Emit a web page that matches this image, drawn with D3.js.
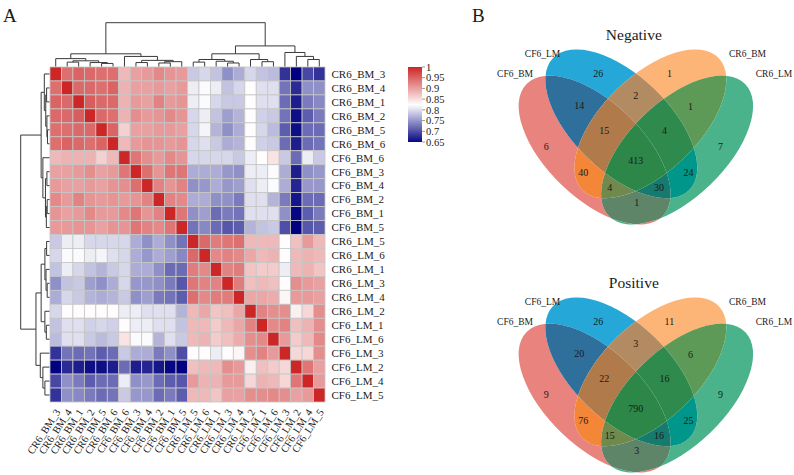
<!DOCTYPE html>
<html>
<head>
<meta charset="utf-8">
<script src="https://cdn.jsdelivr.net/npm/d3@7"></script>
<style>
  body { margin: 0; background: #fff; }
  text { font-family: "Liberation Serif", "Times New Roman", serif; fill: #1a1a1a; }
</style>
</head>
<body>
<svg id="chart"></svg>
<script>
// ---- data ----
const samples = ['CR6_BM_3', 'CR6_BM_4', 'CR6_BM_1', 'CR6_BM_2', 'CR6_BM_5', 'CR6_BM_6',
  'CF6_BM_6', 'CF6_BM_3', 'CF6_BM_4', 'CF6_BM_2', 'CF6_BM_1', 'CF6_BM_5',
  'CR6_LM_5', 'CR6_LM_6', 'CR6_LM_1', 'CR6_LM_3', 'CR6_LM_4', 'CR6_LM_2',
  'CF6_LM_1', 'CF6_LM_6', 'CF6_LM_3', 'CF6_LM_2', 'CF6_LM_4', 'CF6_LM_5'];

// lower triangle of the correlation matrix (row i holds columns 0..i)
const corrLower = [
  [1],
  [0.94, 1],
  [0.95, 0.945, 1],
  [0.945, 0.945, 0.955, 1],
  [0.94, 0.94, 0.945, 0.945, 1],
  [0.94, 0.95, 0.945, 0.94, 0.95, 1],
  [0.88, 0.885, 0.885, 0.885, 0.86, 0.88, 1],
  [0.9, 0.9, 0.905, 0.915, 0.9, 0.905, 0.935, 1],
  [0.905, 0.9, 0.9, 0.905, 0.9, 0.91, 0.915, 0.94, 1],
  [0.92, 0.905, 0.925, 0.91, 0.905, 0.91, 0.905, 0.91, 0.925, 1],
  [0.91, 0.9, 0.905, 0.92, 0.905, 0.905, 0.92, 0.935, 0.91, 0.925, 1],
  [0.905, 0.905, 0.91, 0.91, 0.9, 0.91, 0.91, 0.935, 0.925, 0.92, 0.935, 1],
  [0.785, 0.81, 0.81, 0.795, 0.795, 0.795, 0.795, 0.765, 0.745, 0.765, 0.745, 0.725, 1],
  [0.795, 0.82, 0.82, 0.81, 0.815, 0.8, 0.795, 0.765, 0.75, 0.765, 0.755, 0.74, 0.945, 1],
  [0.78, 0.81, 0.795, 0.78, 0.77, 0.785, 0.795, 0.765, 0.765, 0.745, 0.72, 0.72, 0.93, 0.92, 1],
  [0.745, 0.78, 0.785, 0.755, 0.745, 0.765, 0.795, 0.75, 0.75, 0.745, 0.73, 0.705, 0.935, 0.925, 0.925, 1],
  [0.765, 0.795, 0.785, 0.77, 0.765, 0.77, 0.785, 0.745, 0.755, 0.73, 0.725, 0.71, 0.94, 0.92, 0.93, 0.93, 1],
  [0.795, 0.825, 0.825, 0.825, 0.825, 0.825, 0.81, 0.81, 0.8, 0.8, 0.8, 0.77, 0.88, 0.895, 0.87, 0.875, 0.895, 1],
  [0.78, 0.8, 0.8, 0.79, 0.795, 0.79, 0.825, 0.81, 0.81, 0.8, 0.8, 0.78, 0.88, 0.88, 0.865, 0.88, 0.895, 0.925, 1],
  [0.775, 0.8, 0.8, 0.785, 0.775, 0.785, 0.845, 0.82, 0.82, 0.77, 0.8, 0.785, 0.88, 0.885, 0.865, 0.875, 0.89, 0.915, 0.92, 1],
  [0.68, 0.725, 0.72, 0.725, 0.71, 0.72, 0.785, 0.765, 0.765, 0.73, 0.745, 0.7, 0.825, 0.825, 0.81, 0.825, 0.83, 0.915, 0.925, 0.905, 1],
  [0.645, 0.675, 0.665, 0.655, 0.655, 0.665, 0.72, 0.665, 0.67, 0.66, 0.65, 0.645, 0.875, 0.88, 0.88, 0.915, 0.905, 0.835, 0.875, 0.865, 0.855, 1],
  [0.695, 0.745, 0.73, 0.71, 0.72, 0.72, 0.81, 0.745, 0.75, 0.72, 0.71, 0.705, 0.905, 0.885, 0.885, 0.905, 0.905, 0.855, 0.885, 0.88, 0.855, 0.935, 1],
  [0.68, 0.745, 0.74, 0.73, 0.72, 0.725, 0.785, 0.75, 0.75, 0.72, 0.73, 0.71, 0.88, 0.88, 0.87, 0.9, 0.9, 0.915, 0.915, 0.92, 0.915, 0.9, 0.905, 1]
];

// clustering tree: [height, left, right], leaves are sample indices
const dendro = [1.0,
  [0.29,
    [0.18, 0, [0.13, [0.10, 1, 2], [0.09, 3, [0.07, 4, 5]]]],
    [0.23, 6, [0.14, [0.09, 7, 8], [0.11, [0.08, 9, 10], 11]]]],
  [0.47,
    [0.29,
      [0.16, [0.10, 12, 13], [0.12, 14, [0.08, 15, 16]]],
      [0.16, 17, [0.11, 18, 19]]],
    [0.32, 20, [0.23, 21, [0.16, 22, 23]]]]];

const legendTicks = [1, 0.95, 0.9, 0.85, 0.8, 0.75, 0.7, 0.65];

const vennSets = ['CF6_BM', 'CF6_LM', 'CR6_BM', 'CR6_LM'];
// region keys: membership in [CF6_BM, CF6_LM, CR6_BM, CR6_LM]
const regionKeys = ['1000', '0100', '0010', '0001', '1100', '0110', '0011', '1010',
  '0101', '1001', '1110', '0111', '1011', '1101', '1111'];
const negativeCounts = [6, 26, 1, 7, 14, 2, 1, 40, 24, 1, 15, 4, 4, 30, 413];
const positiveCounts = [9, 26, 11, 9, 20, 3, 6, 76, 25, 3, 22, 16, 15, 16, 790];

// ---- layout ----
const width = 794;
const height = 475;
const hm = { left: 50, right: 325, top: 67, bottom: 402 };

const svg = d3.select('#chart')
  .attr('width', width)
  .attr('height', height);

svg.append('rect').attr('width', width).attr('height', height).attr('fill', '#fff');

svg.append('text').attr('x', 3).attr('y', 22).style('font-size', '19px').text('A');
svg.append('text').attr('x', 472).attr('y', 22).style('font-size', '19px').text('B');

// ---- heatmap ----
const n = samples.length;
const x = d3.scaleBand().domain(d3.range(n)).range([hm.left, hm.right]);
const y = d3.scaleBand().domain(d3.range(n)).range([hm.top, hm.bottom]);
const color = d3.scaleLinear()
  .domain([0.645, 0.8225, 1])
  .range(['#000080', '#ffffff', '#cd2626']);

const cells = [];
samples.forEach((r, i) => {
  samples.forEach((c, j) => {
    cells.push({ i, j, v: i >= j ? corrLower[i][j] : corrLower[j][i] });
  });
});

svg.append('g').attr('class', 'cells')
  .selectAll('rect')
  .data(cells)
  .enter().append('rect')
  .attr('x', d => x(d.j))
  .attr('y', d => y(d.i))
  .attr('width', x.bandwidth())
  .attr('height', y.bandwidth())
  .attr('fill', d => color(d.v))
  .attr('stroke', '#c6c6c6')
  .attr('stroke-width', 0.8);

// row labels
svg.append('g').attr('class', 'row-labels')
  .selectAll('text')
  .data(samples)
  .enter().append('text')
  .attr('x', hm.right + 6.5)
  .attr('y', (d, i) => y(i) + y.bandwidth() / 2)
  .attr('dy', '0.35em')
  .style('font-size', '11px')
  .text(d => d);

// column labels
svg.append('g').attr('class', 'col-labels')
  .selectAll('text')
  .data(samples)
  .enter().append('text')
  .attr('transform', (d, i) => `translate(${x(i) + x.bandwidth() / 2 + 2}, ${hm.bottom + 8}) rotate(-57)`)
  .attr('text-anchor', 'end')
  .attr('dy', '0.35em')
  .style('font-size', '10.5px')
  .text(d => d);

// ---- dendrograms ----
const root = d3.hierarchy(dendro, d => Array.isArray(d) ? d.slice(1) : null);
root.eachAfter(node => {
  if (node.children) {
    node.h = node.data[0];
    node.pos = d3.mean(node.children, c => c.pos);
  } else {
    node.h = 0;
    node.pos = node.data;
  }
});

const leafX = d3.scaleLinear().domain([0, n - 1]).range([x(0) + x.bandwidth() / 2, x(n - 1) + x.bandwidth() / 2]);
const leafY = d3.scaleLinear().domain([0, n - 1]).range([y(0) + y.bandwidth() / 2, y(n - 1) + y.bandwidth() / 2]);
const topH = d3.scaleLinear().domain([0, 1]).range([hm.top - 0.5, 22.7]);
const leftH = d3.scaleLinear().domain([0, 1]).range([hm.left - 0.5, 20.7]);

const internal = root.descendants().filter(d => d.children);

svg.append('g').attr('class', 'dendro-top')
  .selectAll('path')
  .data(internal)
  .enter().append('path')
  .attr('fill', 'none')
  .attr('stroke', '#3a3a3a')
  .attr('stroke-width', 1)
  .attr('d', d => {
    const [a, b] = d.children;
    return `M${leafX(a.pos)},${topH(a.h)}V${topH(d.h)}H${leafX(b.pos)}V${topH(b.h)}`;
  });

svg.append('g').attr('class', 'dendro-left')
  .selectAll('path')
  .data(internal)
  .enter().append('path')
  .attr('fill', 'none')
  .attr('stroke', '#3a3a3a')
  .attr('stroke-width', 1)
  .attr('d', d => {
    const [a, b] = d.children;
    return `M${leftH(a.h)},${leafY(a.pos)}H${leftH(d.h)}V${leafY(b.pos)}H${leftH(b.h)}`;
  });

// ---- colour legend ----
const legendY = d3.scaleLinear().domain([0.65, 1]).range([142, 67]);
const grad = svg.append('defs').append('linearGradient')
  .attr('id', 'legend-grad')
  .attr('x1', 0).attr('y1', 1).attr('x2', 0).attr('y2', 0);
d3.range(0, 1.0001, 0.05).forEach(t => {
  grad.append('stop')
    .attr('offset', t)
    .attr('stop-color', color(0.65 + t * 0.35));
});
svg.append('rect')
  .attr('x', 408)
  .attr('y', legendY(1))
  .attr('width', 14)
  .attr('height', legendY(0.65) - legendY(1))
  .attr('fill', 'url(#legend-grad)');

const legendG = svg.append('g').attr('class', 'legend-ticks');
legendG.selectAll('line')
  .data(legendTicks)
  .enter().append('line')
  .attr('x1', 422).attr('x2', 425)
  .attr('y1', d => legendY(d)).attr('y2', d => legendY(d))
  .attr('stroke', '#555')
  .attr('stroke-width', 0.6);
legendG.selectAll('text')
  .data(legendTicks)
  .enter().append('text')
  .attr('x', 426)
  .attr('y', d => legendY(d))
  .attr('dy', '0.35em')
  .style('font-size', '10.5px')
  .text(d => d);

// ---- venn diagrams ----
const vennShape = {
  cx: [0.324, 0.438, 0.562, 0.676],
  cy: [0.43, 0.318, 0.318, 0.43],
  rot: [44, 44, -44, -44],
  a: 0.405,
  b: 0.205
};
const regionColors = ['#e8837d', '#25a8d8', '#fdb577', '#4bb38b', '#2f6f9c', '#b38b62',
  '#5e9a57', '#f48638', '#00968a', '#5e8568', '#b07a4a', '#2f8a4d', '#6f8a4c', '#177a6e', '#2d8749'];
// small shifts (px) from each region's centroid to where the count is printed
const labelNudge = [[-6, 6], [8, 3], [-12, 3], [1, 6], [6, 1], [0, -2], [-8, 2], [-5, -3],
  [5, -3], [1, -6], [-1, -4], [-2, -4], [-4, -1], [1, -1], [0, -1]];

const panels = [
  { title: 'Negative', counts: negativeCounts, top: 49.3 },
  { title: 'Positive', counts: positiveCounts, top: 297.3 }
];
const setLabelPos = [[515, 28], [542.5, 7.2], [747.5, 7.2], [774, 28]];
const defs = svg.select('defs');

panels.forEach((p, pi) => {
  const vx = d3.scaleLinear().domain([0, 1]).range([518.7, 753]);
  const vy = d3.scaleLinear().domain([0, 1]).range([p.top, p.top + 234.3]);
  const unit = vx(1) - vx(0);
  const ell = vennSets.map((s, k) => ({
    cx: vx(vennShape.cx[k]),
    cy: vy(vennShape.cy[k]),
    rx: vennShape.a * unit,
    ry: vennShape.b * unit,
    rot: vennShape.rot[k]
  }));
  const box = { x: 495, y: p.top - 10, w: 285, h: 200 };

  const addEllipse = (sel, e) => sel.append('ellipse')
    .attr('rx', e.rx).attr('ry', e.ry)
    .attr('transform', `translate(${e.cx},${e.cy}) rotate(${e.rot})`);

  ell.forEach((e, k) => {
    addEllipse(defs.append('clipPath').attr('id', `v${pi}c${k}`), e);
  });

  const g = svg.append('g').attr('class', 'venn');
  regionKeys.forEach((key, r) => {
    const mask = defs.append('mask')
      .attr('id', `v${pi}m${r}`)
      .attr('maskUnits', 'userSpaceOnUse')
      .attr('x', box.x).attr('y', box.y).attr('width', box.w).attr('height', box.h);
    mask.append('rect')
      .attr('x', box.x).attr('y', box.y).attr('width', box.w).attr('height', box.h)
      .attr('fill', '#fff');
    let holder = g;
    key.split('').forEach((bit, k) => {
      if (bit === '0') addEllipse(mask, ell[k]).attr('fill', '#000');
      else holder = holder.append('g').attr('clip-path', `url(#v${pi}c${k})`);
    });
    holder.append('rect')
      .attr('x', box.x).attr('y', box.y).attr('width', box.w).attr('height', box.h)
      .attr('fill', regionColors[r])
      .attr('mask', `url(#v${pi}m${r})`);
  });

  // label each region near the centroid of its area
  const inside = (e, px, py) => {
    const t = e.rot * Math.PI / 180;
    const dx = px - e.cx, dy = py - e.cy;
    const u = dx * Math.cos(t) + dy * Math.sin(t);
    const v = -dx * Math.sin(t) + dy * Math.cos(t);
    return (u / e.rx) ** 2 + (v / e.ry) ** 2 <= 1;
  };
  const acc = {};
  for (let px = box.x; px < box.x + box.w; px += 1) {
    for (let py = box.y; py < box.y + box.h; py += 1) {
      const key = ell.map(e => inside(e, px, py) ? '1' : '0').join('');
      if (!acc[key]) acc[key] = { sx: 0, sy: 0, c: 0 };
      acc[key].sx += px; acc[key].sy += py; acc[key].c += 1;
    }
  }

  g.selectAll('text.count')
    .data(regionKeys.map((key, r) => ({ key, r, value: p.counts[r] })))
    .enter().append('text')
    .attr('class', 'count')
    .attr('x', d => acc[d.key].sx / acc[d.key].c + labelNudge[d.r][0])
    .attr('y', d => acc[d.key].sy / acc[d.key].c + labelNudge[d.r][1])
    .attr('text-anchor', 'middle')
    .attr('dy', '0.35em')
    .style('font-size', '10px')
    .text(d => d.value);

  g.append('text')
    .attr('x', 633.8)
    .attr('y', p.top - 9.8)
    .attr('text-anchor', 'middle')
    .style('font-size', '15.5px')
    .text(p.title);

  g.selectAll('text.set')
    .data(vennSets)
    .enter().append('text')
    .attr('class', 'set')
    .attr('x', (d, k) => setLabelPos[k][0])
    .attr('y', (d, k) => p.top + setLabelPos[k][1])
    .attr('text-anchor', 'middle')
    .style('font-size', '9.5px')
    .text(d => d);
});
</script>
</body>
</html>
